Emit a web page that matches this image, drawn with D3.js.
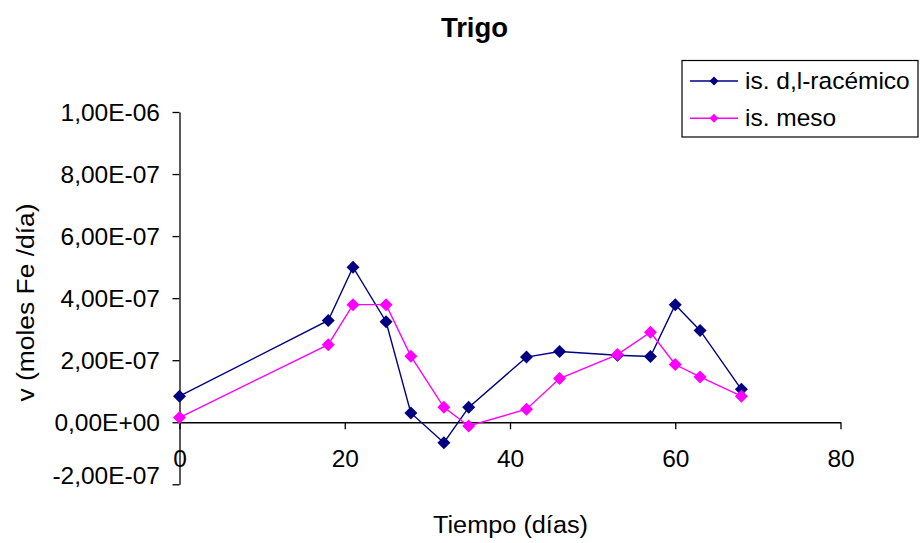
<!DOCTYPE html>
<html>
<head>
<meta charset="utf-8">
<script src="https://cdn.jsdelivr.net/npm/d3@7"></script>
<style>
  html, body { margin: 0; padding: 0; background: #fff; }
  svg { display: block; font-family: "Liberation Sans", Arial, sans-serif; }
</style>
</head>
<body>
<div id="chart"></div>
<script>
// Sampling days
const days = [0, 18, 21, 25, 28, 32, 35, 42, 46, 53, 57, 60, 63, 68];
// Rate series, moles Fe per day
const racemico = [8.4e-8, 3.28e-7, 5.0e-7, 3.24e-7, 3.0e-8, -6.6e-8, 4.8e-8, 2.1e-7, 2.28e-7, 2.16e-7, 2.12e-7, 3.79e-7, 2.96e-7, 1.06e-7];
const meso = [1.5e-8, 2.5e-7, 3.79e-7, 3.79e-7, 2.13e-7, 4.8e-8, -1.2e-8, 4.2e-8, 1.41e-7, 2.18e-7, 2.9e-7, 1.86e-7, 1.46e-7, 8.4e-8];
const seriesNames = ["is. d,l-racémico", "is. meso"];
// Axis ticks
const xTicks = [0, 20, 40, 60, 80];
const yTicks = [-2e-7, 0, 2e-7, 4e-7, 6e-7, 8e-7, 1e-6];
const yTickLabels = ["-2,00E-07", "0,00E+00", "2,00E-07", "4,00E-07", "6,00E-07", "8,00E-07", "1,00E-06"];

const W = 920, H = 543;
const colors = ["#000080", "#FF00FF"];

const svg = d3.select("#chart").append("svg")
  .attr("width", W).attr("height", H);
svg.append("rect").attr("width", W).attr("height", H).attr("fill", "#fff");

const x = d3.scaleLinear().domain([0, 80]).range([179.5, 840.5]);
const y = d3.scaleLinear().domain([-2e-7, 1e-6]).range([484.3, 112]);

// Title
svg.append("text")
  .attr("x", 474.5).attr("y", 37)
  .attr("text-anchor", "middle")
  .attr("font-size", 27.5).attr("font-weight", "bold")
  .text("Trigo");

// Y axis
const yAxis = svg.append("g")
  .attr("transform", `translate(${x(0)},0)`)
  .call(d3.axisLeft(y)
    .tickValues(yTicks)
    .tickFormat((d, i) => yTickLabels[i])
    .tickSize(7).tickSizeOuter(0).tickPadding(12.5));
yAxis.selectAll("text")
  .attr("font-size", 24.5).attr("fill", "#000")
  .attr("font-family", "Liberation Sans, Arial, sans-serif")
  .attr("dy", (d) => d === yTicks[0] ? "-0.02em" : "0.35em");

// X axis sits on the zero line
const xAxis = svg.append("g")
  .attr("transform", `translate(0,${y(0)})`)
  .call(d3.axisBottom(x)
    .tickValues(xTicks)
    .tickSize(7).tickSizeOuter(0).tickPadding(20));
xAxis.selectAll("text")
  .attr("font-size", 24.5).attr("fill", "#000")
  .attr("font-family", "Liberation Sans, Arial, sans-serif");

svg.selectAll(".domain, .tick line")
  .attr("stroke", "#000").attr("stroke-width", 1.3);

// Axis titles
svg.append("text")
  .attr("x", 510.5).attr("y", 533)
  .attr("text-anchor", "middle")
  .attr("font-size", 23.5)
  .attr("textLength", 155).attr("lengthAdjust", "spacingAndGlyphs")
  .text("Tiempo (días)");

svg.append("text")
  .attr("transform", "translate(34,302.5) rotate(-90)")
  .attr("text-anchor", "middle")
  .attr("font-size", 23.5)
  .attr("textLength", 198).attr("lengthAdjust", "spacingAndGlyphs")
  .text("v (moles Fe /día)");

// Diamond marker path
const diamond = (r) => `M0,${-r}L${r},0L0,${r}L${-r},0Z`;

const line = d3.line()
  .x((d) => x(d[0]))
  .y((d) => y(d[1]));

[racemico, meso].forEach((vals, si) => {
  const pts = days.map((d, i) => [d, vals[i]]);
  const g = svg.append("g");
  g.append("path")
    .datum(pts)
    .attr("d", line)
    .attr("fill", "none")
    .attr("stroke", colors[si])
    .attr("stroke-width", 1.4);
  g.selectAll("path.mk")
    .data(pts)
    .join("path")
    .attr("class", "mk")
    .attr("transform", (d) => `translate(${x(d[0])},${y(d[1])})`)
    .attr("d", diamond(6.5))
    .attr("fill", colors[si]);
});

// Legend
const legend = svg.append("g");
legend.append("rect")
  .attr("x", 682).attr("y", 60.5)
  .attr("width", 236).attr("height", 76.5)
  .attr("fill", "#fff").attr("stroke", "#000").attr("stroke-width", 1.2);
seriesNames.forEach((name, i) => {
  const ly = 81 + i * 37.3;
  legend.append("line")
    .attr("x1", 690).attr("x2", 738)
    .attr("y1", ly).attr("y2", ly)
    .attr("stroke", colors[i]).attr("stroke-width", 1.4);
  legend.append("path")
    .attr("transform", `translate(714,${ly})`)
    .attr("d", diamond(4.5))
    .attr("fill", colors[i]);
  legend.append("text")
    .attr("x", 745).attr("y", ly + 8)
    .attr("font-size", 24.5)
    .text(name);
});
</script>
</body>
</html>
